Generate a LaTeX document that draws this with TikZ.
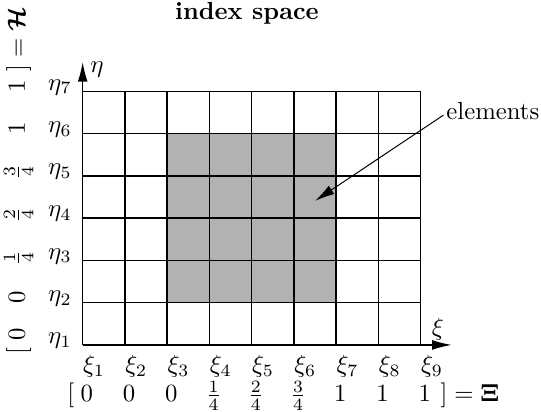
\documentclass[tikz,border=0pt]{standalone}
\usepackage{amsmath,amssymb}
\usetikzlibrary{arrows.meta, positioning}

\begin{document}
\begin{tikzpicture}[
    x=0.6cm, y=0.6cm,
    cell/.style={semithick, step={(1,1)}},
    element/.style={fill=gray!60},
    axis/.style={semithick, -{Latex[length=8pt, width=4pt]}},
    pointer/.style={-{Latex[length=8pt, width=4pt]}},
    lbl/.style={inner sep=0pt},
    knot/.style={anchor=base, inner sep=0pt}
]
\useasboundingbox (-1.957,-1.586) rectangle (10.85,8.166);

%% --- Elemente (zona gri) ---
\fill[element] (2,1) rectangle (6,5);

%% --- Grila ---
\draw[cell] (0,0) grid (8,6);

%% --- Axe ---
\coordinate (O)    at (0,0);
\coordinate (xend) at (8.74,0);
\coordinate (yend) at (0,6.70);
\draw[axis] (O) -- (xend);
\draw[axis] (O) -- (yend);
\node[lbl] (xi)  at (8.41,0.36) {$\xi$};
\node[lbl] (eta) at (0.34,6.51) {$\eta$};

%% --- Titlu ---
\node[font=\bfseries] (title) at (3.89,7.86) {index space};

%% --- Etichete xi / eta ---
\foreach \i in {1,...,9}
    \node[lbl, anchor=north west] (xi\i) at ({\i-1},-0.24) {$\xi_{\i}$};
\foreach \j in {1,...,7}
    \node[lbl, anchor=east] (eta\j) at (-0.25,{\j-0.9}) {$\eta_{\j}$};

%% --- Vector nod Xi ---
\node[knot] (xl) at (-0.28,-1.35) {$[$};
\foreach \v [count=\i] in {0,0,0,\frac{1}{4},\frac{2}{4},\frac{3}{4},1,1,1}
    \node[knot] (xk\i) at ({\i-0.9},-1.35) {$\v$};
\node[knot, anchor=base west] (xr) at (8.46,-1.35) {$]=\boldsymbol{\Xi}$};

%% --- Vector nod H (rotit) ---
\node[knot, rotate=90] (hl) at (-1.37,-0.14) {$[$};
\foreach \v/\y [count=\j] in {0/0.24, 0/1.12, \frac{1}{4}/2.06, \frac{2}{4}/3.08,
                              \frac{3}{4}/4.10, 1/5.13, 1/6.12}
    \node[knot, rotate=90] (hk\j) at (-1.37,\y) {$\v$};
\node[knot, rotate=90, anchor=base west] (hr) at (-1.37,6.46) {$]=\boldsymbol{\mathcal{H}}$};

%% --- Eticheta elemente ---
\node[lbl] (elem) at (9.71,5.54) {elements};
\coordinate (target) at (5.5,3.41);
\draw[pointer] ([xshift=-1pt, yshift=-1.7pt]elem.west) -- (target);

\end{tikzpicture}
\end{document}
